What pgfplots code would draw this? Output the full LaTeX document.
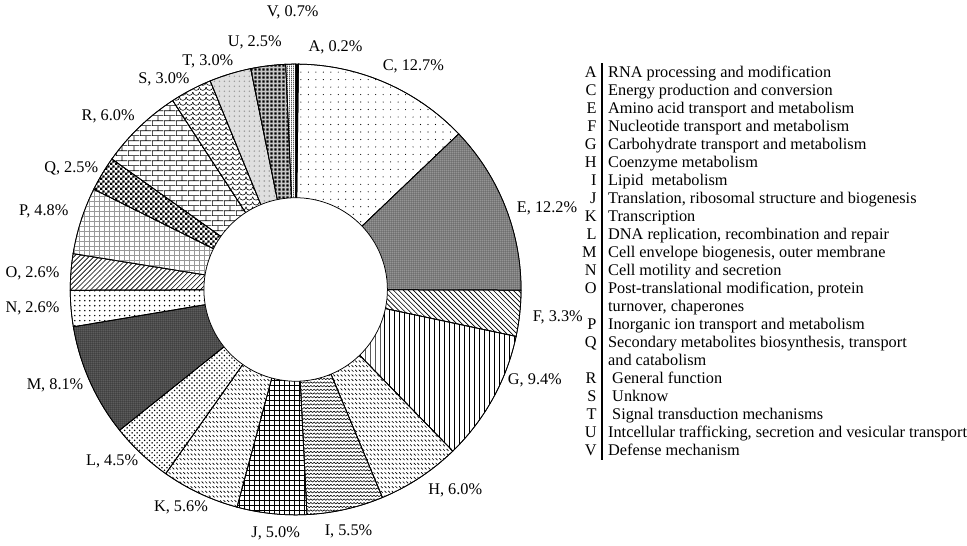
\documentclass[border=0pt]{standalone}
\usepackage{fontspec}
\setmainfont{Liberation Serif}
\usepackage{pgfplots}
\pgfplotsset{compat=1.18}
\usetikzlibrary{patterns,patterns.meta}

% ---- custom patterns ----
\pgfdeclarepattern{name=sparsedots, type=uncolored,
  bottom left={\pgfpoint{-1pt}{-1pt}}, top right={\pgfpoint{4pt}{4pt}},
  tile size={\pgfpoint{4.5pt}{4.5pt}},
  code={\pgfpathcircle{\pgfpoint{1pt}{1pt}}{0.35pt}\pgfusepath{fill}}}
\pgfdeclarepattern{name=wavy, type=uncolored,
  bottom left={\pgfpoint{-0.5pt}{-0.5pt}}, top right={\pgfpoint{2.5pt}{2.5pt}},
  tile size={\pgfpoint{2pt}{2.2pt}},
  code={\pgfsetlinewidth{0.35pt}\pgfpathmoveto{\pgfpoint{0pt}{0.5pt}}\pgfpathlineto{\pgfpoint{1pt}{1.4pt}}\pgfpathlineto{\pgfpoint{2pt}{0.5pt}}\pgfusepath{stroke}}}
\pgfdeclarepattern{name=dashes, type=uncolored,
  bottom left={\pgfpoint{-0.5pt}{-0.5pt}}, top right={\pgfpoint{3pt}{3pt}},
  tile size={\pgfpoint{2.2pt}{2.8pt}},
  code={\pgfsetlinewidth{0.4pt}\pgfpathmoveto{\pgfpoint{0.3pt}{1.8pt}}\pgfpathlineto{\pgfpoint{1.4pt}{0.7pt}}\pgfusepath{stroke}}}
\pgfdeclarepattern{name=scales, type=uncolored,
  bottom left={\pgfpoint{-0.5pt}{-0.5pt}}, top right={\pgfpoint{4.5pt}{3.5pt}},
  tile size={\pgfpoint{4pt}{3pt}},
  code={\pgfsetlinewidth{0.35pt}\pgfpathmoveto{\pgfpoint{0pt}{2.5pt}}\pgfpatharc{180}{360}{2pt}\pgfusepath{stroke}}}
\pgfdeclarepattern{name=squares, type=uncolored,
  bottom left={\pgfpoint{0pt}{0pt}}, top right={\pgfpoint{2.6pt}{2.6pt}},
  tile size={\pgfpoint{2.6pt}{2.6pt}},
  code={\pgfpathrectangle{\pgfpoint{0.3pt}{0.3pt}}{\pgfpoint{1.5pt}{1.5pt}}\pgfusepath{fill}}}
\pgfdeclarepattern{name=checks, type=uncolored,
  bottom left={\pgfpoint{0pt}{0pt}}, top right={\pgfpoint{3.2pt}{3.2pt}},
  tile size={\pgfpoint{3.2pt}{3.2pt}},
  code={\pgfpathrectangle{\pgfpoint{0pt}{0pt}}{\pgfpoint{1.6pt}{1.6pt}}\pgfpathrectangle{\pgfpoint{1.6pt}{1.6pt}}{\pgfpoint{1.6pt}{1.6pt}}\pgfusepath{fill}}}
\pgfdeclarepattern{name=smallbricks, type=uncolored,
  bottom left={\pgfpoint{0pt}{0pt}}, top right={\pgfpoint{7pt}{6pt}},
  tile size={\pgfpoint{7pt}{6pt}},
  code={\pgfsetlinewidth{0.4pt}%
    \pgfpathmoveto{\pgfpoint{0pt}{0.2pt}}\pgfpathlineto{\pgfpoint{7pt}{0.2pt}}%
    \pgfpathmoveto{\pgfpoint{0pt}{3.2pt}}\pgfpathlineto{\pgfpoint{7pt}{3.2pt}}%
    \pgfpathmoveto{\pgfpoint{0.2pt}{0.2pt}}\pgfpathlineto{\pgfpoint{0.2pt}{3.2pt}}%
    \pgfpathmoveto{\pgfpoint{3.7pt}{3.2pt}}\pgfpathlineto{\pgfpoint{3.7pt}{6pt}}%
    \pgfusepath{stroke}}}
\pgfdeclarepattern{name=finegrid, type=uncolored,
  bottom left={\pgfpoint{0pt}{0pt}}, top right={\pgfpoint{1.4pt}{1.4pt}},
  tile size={\pgfpoint{1.4pt}{1.4pt}},
  code={\pgfsetlinewidth{0.3pt}\pgfpathmoveto{\pgfpoint{0pt}{0.7pt}}\pgfpathlineto{\pgfpoint{1.4pt}{0.7pt}}\pgfpathmoveto{\pgfpoint{0.7pt}{0pt}}\pgfpathlineto{\pgfpoint{0.7pt}{1.4pt}}\pgfusepath{stroke}}}
\pgfdeclarepattern{name=densevert, type=uncolored,
  bottom left={\pgfpoint{0pt}{0pt}}, top right={\pgfpoint{1.3pt}{1pt}},
  tile size={\pgfpoint{1.3pt}{1pt}},
  code={\pgfsetlinewidth{0.4pt}\pgfpathmoveto{\pgfpoint{0.6pt}{0pt}}\pgfpathlineto{\pgfpoint{0.6pt}{1pt}}\pgfusepath{stroke}}}

% ---- slice styles ----
\tikzset{
  pA/.style={fill=black},
  pC/.style={fill=white, postaction={pattern={sparsedots}, pattern color=black}},
  pE/.style={fill=gray!60, postaction={pattern={finegrid}, pattern color=gray!60!black}},
  pF/.style={fill=white, postaction={pattern=north west lines}},
  pG/.style={fill=white, postaction={pattern=vertical lines}},
  pH/.style={fill=white, postaction={pattern={dashes}}},
  pI/.style={fill=white, postaction={pattern={wavy}}},
  pJ/.style={fill=white, postaction={pattern=grid}},
  pK/.style={fill=white, postaction={pattern={dashes}}},
  pL/.style={fill=white, postaction={pattern=crosshatch dots}},
  pM/.style={fill=black!55, postaction={pattern={finegrid}, pattern color=black!85}},
  pN/.style={fill=white, postaction={pattern=dots}},
  pO/.style={fill=white, postaction={pattern=north east lines}},
  pP/.style={fill=white, postaction={pattern=grid, pattern color=gray!80}},
  pQ/.style={fill=white, postaction={pattern={checks}}},
  pR/.style={fill=white, postaction={pattern={smallbricks}}},
  pS/.style={fill=white, postaction={pattern={scales}}},
  pT/.style={fill=gray!25, postaction={pattern=dots, pattern color=gray!80}},
  pU/.style={fill=gray!45, postaction={pattern={squares}}},
  pV/.style={fill=white, postaction={pattern={densevert}}},
}

% ---- data: category / percentage ----
\def\slicedata{A/0.2,C/12.7,E/12.2,F/3.3,G/9.4,H/6.0,I/5.5,J/5.0,K/5.6,L/4.5,M/8.1,N/2.6,O/2.6,P/4.8,Q/2.5,R/6.0,S/3.0,T/3.0,U/2.5,V/0.7}

\gdef\total{0}
\foreach \l/\v in \slicedata {\pgfmathsetmacro\tmp{\total+\v}\global\let\total\tmp}
\gdef\cum{0}
\foreach \l/\v in \slicedata {%
  \pgfmathsetmacro\a{90-\cum/\total*360}%
  \pgfmathsetmacro\nc{\cum+\v}%
  \pgfmathsetmacro\b{90-\nc/\total*360}%
  \expandafter\xdef\csname s@\l\endcsname{\a}%
  \expandafter\xdef\csname e@\l\endcsname{\b}%
  \global\let\cum\nc}

\def\R{226}\def\r{92}\def\cx{296}\def\cy{291}
\newcommand\slice[1]{%
  \edef\temp{\noexpand\addplot[p#1, draw=black, line width=0.45pt,
    domain=\csname e@#1\endcsname:\csname s@#1\endcsname, samples=60, variable=\noexpand\t]
    ({\cx+\R*cos(\noexpand\t)},{\cy-\R*sin(\noexpand\t)}) -- (axis cs:\cx,\cy) -- cycle;}%
  \temp}
\newcommand\legrow[3]{%
  \node[anchor=base east, inner sep=0pt] at (axis cs:598,#1) {#2};
  \node[anchor=base west, inner sep=0pt] at (axis cs:609,#1) {#3};}

\begin{document}
\begin{tikzpicture}[font=\fontsize{9.8}{11}\selectfont]
\begin{axis}[scale only axis, width=580.2pt, height=325.2pt,
  xmin=0, xmax=967, ymin=0, ymax=542, y dir=reverse,
  axis lines=none, clip=false]
\slice{A}\slice{C}\slice{E}\slice{F}\slice{G}\slice{H}\slice{I}\slice{J}\slice{K}\slice{L}
\slice{M}\slice{N}\slice{O}\slice{P}\slice{Q}\slice{R}\slice{S}\slice{T}\slice{U}\slice{V}
\addplot[draw=black, line width=0.45pt, fill=white, domain=0:360, samples=120, variable=\t]
  ({\cx+\r*cos(t)},{\cy-\r*sin(t)}) -- cycle;

% slice labels
\node at (axis cs:293,13) {V, 0.7\%};
\node at (axis cs:255,43) {U, 2.5\%};
\node at (axis cs:336,48) {A, 0.2\%};
\node at (axis cs:414,67) {C, 12.7\%};
\node at (axis cs:208,62) {T, 3.0\%};
\node at (axis cs:164,80) {S, 3.0\%};
\node at (axis cs:108,117) {R, 6.0\%};
\node at (axis cs:71,170) {Q, 2.5\%};
\node[anchor=east] at (axis cs:74,213) {P, 4.8\%};
\node[anchor=east] at (axis cs:65,275) {O, 2.6\%};
\node[anchor=east] at (axis cs:65,310) {N, 2.6\%};
\node[anchor=east] at (axis cs:89,387) {M, 8.1\%};
\node at (axis cs:112,463) {L, 4.5\%};
\node at (axis cs:181,509) {K, 5.6\%};
\node at (axis cs:276,535) {J, 5.0\%};
\node at (axis cs:349,533) {I, 5.5\%};
\node at (axis cs:456,492) {H, 6.0\%};
\node[anchor=west] at (axis cs:503,382) {G, 9.4\%};
\node[anchor=west] at (axis cs:528,319) {F, 3.3\%};
\node[anchor=west] at (axis cs:512,210) {E, 12.2\%};

% legend
\draw[line width=1.1pt] (axis cs:603,64) -- (axis cs:603,462);
\legrow{78}{A}{RNA processing and modification}
\legrow{96.05}{C}{Energy production and conversion}
\legrow{114.1}{E}{Amino acid transport and metabolism}
\legrow{132.15}{F}{Nucleotide transport and metabolism}
\legrow{150.2}{G}{Carbohydrate transport and metabolism}
\legrow{168.25}{H}{Coenzyme metabolism}
\legrow{186.3}{I}{Lipid\ \ metabolism}
\legrow{204.35}{J}{Translation, ribosomal structure and biogenesis}
\legrow{222.4}{K}{Transcription}
\legrow{240.45}{L}{DNA replication, recombination and repair}
\legrow{258.5}{M}{Cell envelope biogenesis, outer membrane}
\legrow{276.55}{N}{Cell motility and secretion}
\legrow{294.6}{O}{Post-translational modification, protein}
\legrow{312.65}{}{turnover, chaperones}
\legrow{330.7}{P}{Inorganic ion transport and metabolism}
\legrow{348.75}{Q}{Secondary metabolites biosynthesis, transport}
\legrow{366.8}{}{and catabolism}
\legrow{384.85}{R}{\ General function}
\legrow{402.9}{S}{\ Unknow}
\legrow{420.95}{T}{\ Signal transduction mechanisms}
\legrow{439}{U}{Intcellular trafficking, secretion and vesicular transport}
\legrow{457.05}{V}{Defense mechanism}
\end{axis}
\end{tikzpicture}
\end{document}
